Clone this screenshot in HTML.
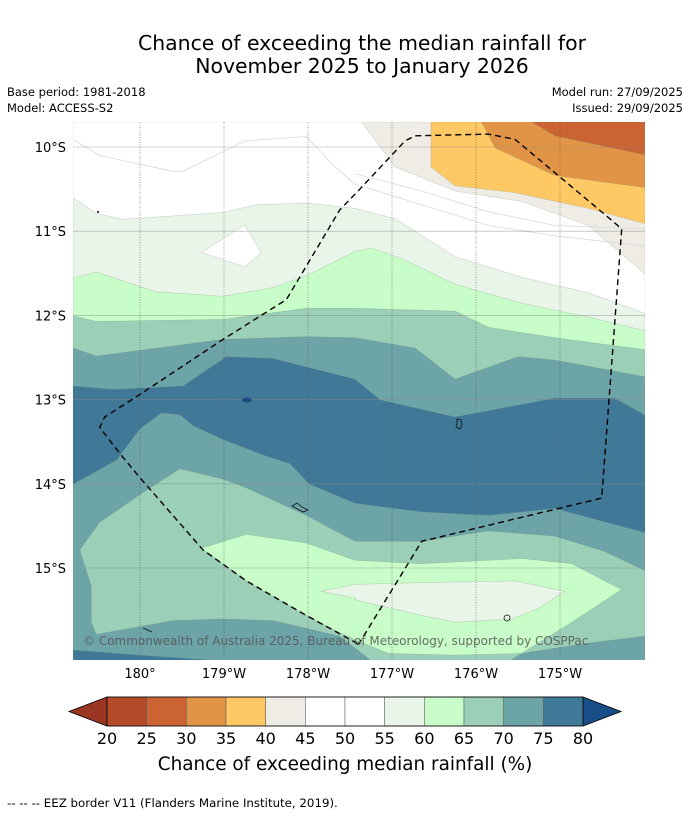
<!DOCTYPE html>
<html><head><meta charset="utf-8"><style>
body{margin:0;background:#fff;width:690px;height:816px;overflow:hidden;font-family:"DejaVu Sans","Liberation Sans",sans-serif;}
svg{position:absolute;left:0;top:0;font-family:"DejaVu Sans","Liberation Sans",sans-serif}
</style></head><body>
<svg id="s" width="690" height="816" xmlns="http://www.w3.org/2000/svg">
<text x="362" y="50" font-size="20.4" text-anchor="middle">Chance of exceeding the median rainfall for</text>
<text x="362" y="73" font-size="20.4" text-anchor="middle">November 2025 to January 2026</text>
<text x="7" y="96" font-size="11.5">Base period: 1981-2018</text>
<text x="7" y="112" font-size="11.5">Model: ACCESS-S2</text>
<text x="683" y="96" font-size="11.5" text-anchor="end">Model run: 27/09/2025</text>
<text x="683" y="112" font-size="11.5" text-anchor="end">Issued: 29/09/2025</text>
<defs><clipPath id="clip"><rect x="73" y="122" width="572" height="538"/></clipPath></defs>
<g id="map" clip-path="url(#clip)"></g>
<g id="axes"></g>
<g id="cbar"></g>
<text x="345" y="770" font-size="18.4" text-anchor="middle">Chance of exceeding median rainfall (%)</text>
<text x="7" y="807" font-size="11.8">--  --  -- EEZ border V11 (Flanders Marine Institute, 2019).</text>
</svg>
<script>
const cbLevels=[20,25,30,35,40,45,50,55,60,65,70,75,80];
const cbColors=['#b44a29','#cb6332','#e19446','#fec964','#efece6','#ffffff','#ffffff','#eaf5ea','#c8fcc8','#9bcfb7','#6da4a7','#407998'];
const cbUnder='#9a3522', cbOver='#174e87';
const latTicks=[10,11,12,13,14,15];
const lonTicks=[180,179,178,177,176,175];
const lonLabels=['180°','179°W','178°W','177°W','176°W','175°W'];
const NS='http://www.w3.org/2000/svg';
function mk(t,a,p){const e=document.createElementNS(NS,t);for(const k in a)e.setAttribute(k,a[k]);p.appendChild(e);return e;}
const lonX=w=>140+(180-w)*84;
const latY=l=>147+(l-10)*84.2;
function LL(a){return a.map(p=>[73+p[0]/3,122+p[1]/2.898]);}
function RR(a){return a.map(p=>[355+p[0]/3,122+p[1]/2.898]);}
function J(l,r){return [...LL(l).filter(p=>p[0]<356),...RR(r)];}
function ps(a){return a.map(p=>p[0].toFixed(1)+','+p[1].toFixed(1)).join(' ');}
const mapG=document.getElementById('map');
function poly(pts,fill,name){const e=mk('polygon',{points:ps(pts),fill:fill,stroke:'rgba(120,140,120,0.35)','stroke-width':0.6},mapG);

}
function topPoly(b){return [[73,122],...b,[645,122]];}
function botPoly(b){return [...b,[645,660],[73,660]];}
const C=cbColors;
mk('rect',{x:73,y:122,width:572,height:538,fill:C[11]},mapG);
const dTop=J([[0,765],[120,775],[330,765],[460,680],[600,685],[700,710],[850,738]],[[0,745],[75,805],[300,855],[600,800],[780,800],[870,850]]);
const t70=J([[0,655],[70,678],[200,662],[450,630],[700,622],[850,625]],[[0,625],[180,655],[300,745],[490,680],[600,690],[870,738]]);
const t65=J([[0,562],[70,578],[450,572],[700,540],[850,537]],[[0,540],[300,548],[400,595],[600,625],[870,660]]);
const t60=J([[0,452],[70,435],[250,492],[450,505],[600,480],[700,445],[850,380]],[[0,375],[50,365],[150,400],[300,470],[500,525],[700,565],[870,605]]);
const t55=J([[0,220],[70,265],[150,282],[450,262],[550,240],[700,235],[850,248]],[[0,250],[120,280],[300,390],[500,450],[700,495],[870,555]]);
poly(topPoly(dTop),C[10],'band-70-75-north');
poly(topPoly(t70),C[9],'band-65-70-north');
poly(topPoly(t65),C[8],'band-60-65-north');
poly(topPoly(t60),C[7],'band-55-60-north');
poly(topPoly(t55),'#ffffff','band-45-55-north');
poly(LL([[385,378],[515,298],[565,378],[515,420]]),'#ffffff','white-patch');
poly([...RR([[20,0],[120,130],[300,200],[500,230],[700,300],[870,440]]),[645,122]],C[4],'band-40-45');
poly([...RR([[228,0],[228,130],[300,185],[480,205],[700,250],[870,295]]),[645,122]],C[3],'band-35-40');
poly([...RR([[380,0],[420,75],[600,155],[870,190]]),[645,122]],C[2],'band-30-35');
poly([...RR([[530,0],[600,40],[870,95]]),[645,122]],C[1],'band-25-30');
const dBot=J([[0,1050],[130,980],[200,890],[265,843],[320,848],[360,880],[450,920],[570,965],[650,990],[710,1050],[850,1103]],[[0,1105],[200,1130],[400,1140],[600,1120],[870,1190]]);
poly(botPoly(dBot),C[10],'band-70-75-south');
poly([...J([[20,1240],[80,1160],[200,1080],[320,1005],[450,1035],[520,1060],[700,1140],[850,1192]],[[0,1215],[200,1215],[400,1185],[600,1200],[750,1245],[870,1300],[870,1490],[700,1510],[500,1540],[400,1600],[100,1600]]),...LL([[800,1490],[600,1445],[450,1440],[300,1445],[70,1485],[55,1450],[55,1345]])],C[9],'band-65-70-south');
poly(LL([[0,1530],[200,1545],[420,1560],[420,1600],[0,1600]]),C[11],'band-75-80-southwest');
poly([...J([[385,1235],[520,1195],[700,1220],[850,1245]],[[0,1270],[200,1280],[500,1265],[650,1280],[800,1355],[650,1450],[500,1540],[300,1545],[100,1540],[0,1500]]),...LL([[800,1480],[700,1430],[520,1330]])],C[8],'band-60-65-south');
poly([...J([[745,1360],[850,1352]],[[0,1340],[200,1335],[480,1330],[630,1360],[550,1410],[470,1440],[300,1450],[200,1430],[0,1385]]),...LL([[850,1380]])],C[7],'band-55-60-south');
[J([[0,50],[80,97],[300,143],[330,143],[515,55],[700,42],[780,125],[850,160]],[[0,180],[200,240],[400,300],[600,330],[870,360]]),
 RR([[0,150],[200,200],[400,260],[600,300],[870,310]])].forEach(b=>mk('polyline',{points:ps(b),fill:'none',stroke:'#d8d8d8','stroke-width':0.8},mapG));
latTicks.forEach(l=>mk('line',{x1:73,x2:645,y1:latY(l),y2:latY(l),stroke:'#888','stroke-width':0.6,opacity:0.7},mapG));
lonTicks.forEach(w=>mk('line',{x1:lonX(w),x2:lonX(w),y1:122,y2:660,stroke:'#555','stroke-width':0.7,'stroke-dasharray':'1,1.5',opacity:0.8},mapG));
mk('ellipse',{cx:247,cy:400,rx:5,ry:2.5,fill:'#1a4d80'},mapG);
mk('path',{d:'M457,419 l4,1 l1,5 l-2,4 l-4,-2 l1,-4z',fill:'none',stroke:'#111','stroke-width':0.8},mapG);
mk('path',{d:'M292,506 l5,-3 l5,4 l6,3 l-5,2z',fill:'none',stroke:'#111','stroke-width':0.8},mapG);
mk('circle',{cx:507,cy:618,r:3,fill:'none',stroke:'#111','stroke-width':0.8},mapG);
mk('line',{x1:143,y1:628,x2:152,y2:632,stroke:'#111','stroke-width':0.8},mapG);
const eez=[...RR([[10,1515],[200,1215],[740,1090],[800,310],[770,285],[480,50],[400,35],[180,40],[150,55]]),...LL([[860,195],[800,255],[640,515],[450,630],[200,790],[95,855],[80,885],[140,960],[200,1030],[390,1240],[520,1330],[700,1430],[860,1515]])];
const ez=mk('polyline',{points:ps(eez),fill:'none',stroke:'#000','stroke-width':1.4,'stroke-dasharray':'6,4'},mapG);


mk('circle',{cx:98,cy:212,r:1,fill:'#000'},mapG);
const cp=mk('text',{x:83,y:645,'font-size':12,fill:'#555',opacity:0.85},mapG);cp.textContent='© Commonwealth of Australia 2025, Bureau of Meteorology, supported by COSPPac';


const ax=document.getElementById('axes');
latTicks.forEach(l=>{const t=mk('text',{x:66,y:latY(l)+5,'font-size':13,'text-anchor':'end'},ax);t.textContent=l+'°S';

});
lonTicks.forEach((w,i)=>{const t=mk('text',{x:lonX(w),y:678,'font-size':13,'text-anchor':'middle'},ax);t.textContent=lonLabels[i];

});
const cb=document.getElementById('cbar');
const cx0=107,cx1=583,cy0=697,cy1=726,n=cbColors.length,sw=(cx1-cx0)/n;
mk('polygon',{points:`${cx0},${cy0} 69,${(cy0+cy1)/2} ${cx0},${cy1}`,fill:cbUnder,stroke:'#000','stroke-width':0.8},cb);
mk('polygon',{points:`${cx1},${cy0} 621,${(cy0+cy1)/2} ${cx1},${cy1}`,fill:cbOver,stroke:'#000','stroke-width':0.8},cb);
cbColors.forEach((c,i)=>{const r=mk('rect',{x:cx0+i*sw,y:cy0,width:sw,height:cy1-cy0,fill:c,stroke:'#666','stroke-width':0.6},cb);

});
mk('rect',{x:cx0,y:cy0,width:cx1-cx0,height:cy1-cy0,fill:'none',stroke:'#000','stroke-width':0.8},cb);
cbLevels.forEach((v,i)=>{const t=mk('text',{x:cx0+i*sw,y:744,'font-size':16,'text-anchor':'middle'},cb);t.textContent=v;

});
</script>
</body></html>
